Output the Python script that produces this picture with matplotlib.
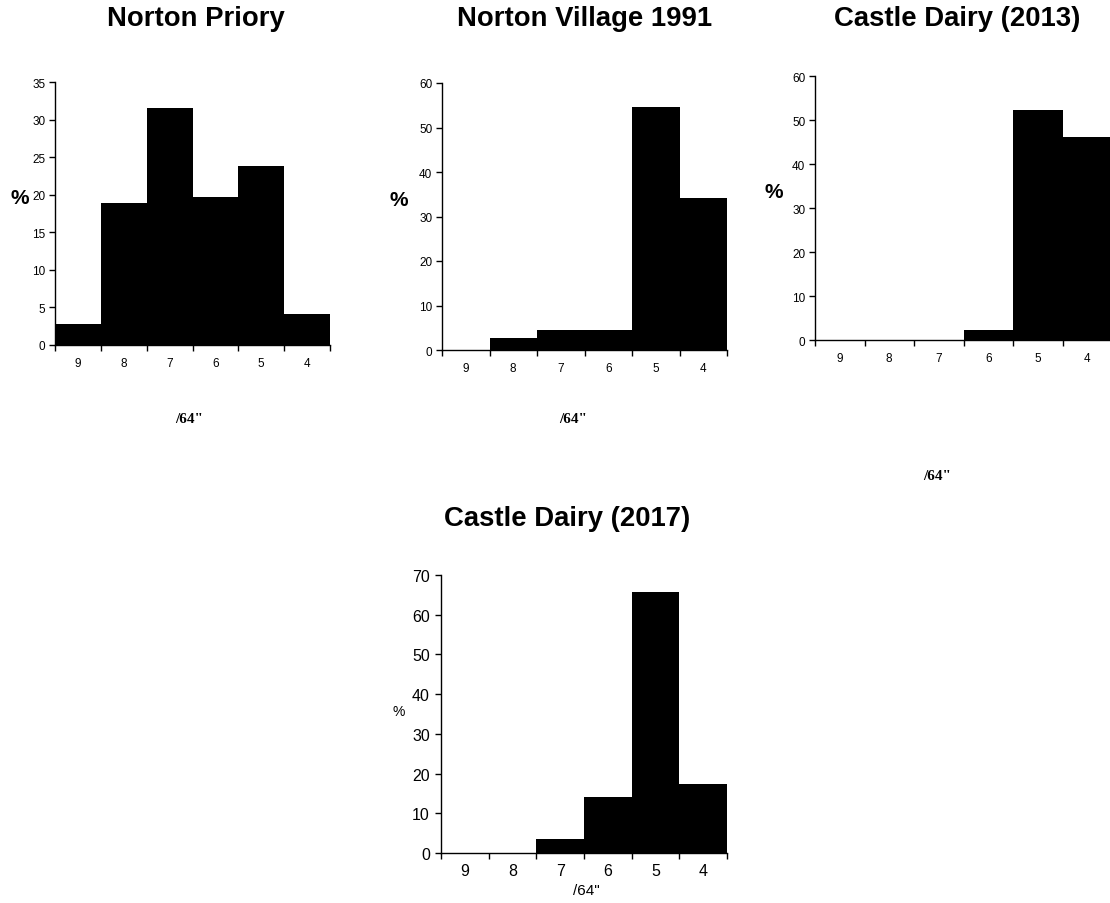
import matplotlib
matplotlib.use("Agg")
import matplotlib.pyplot as plt

plt.rcParams['font.family'] = ['Liberation Sans', 'DejaVu Sans']

W, H = 1110, 904

# sizes in 64ths of an inch, largest to smallest
sizes = ["9", "8", "7", "6", "5", "4"]

norton_priory = [2.8, 18.9, 31.5, 19.7, 23.8, 4.1]
norton_village = [0.0, 2.6, 4.6, 4.6, 54.7, 34.2]
castle_2013 = [0.0, 0.0, 0.0, 2.2, 52.3, 46.1]
castle_2017 = [0.0, 0.0, 3.6, 14.0, 65.6, 17.5]


def box(l, t, r, b):
    # pixel box -> figure fraction
    return [l / W, 1 - b / H, (r - l) / W, (b - t) / H]


def fx(x):
    return x / W


def fy(y):
    return 1 - y / H


def hist_panel(ax, values, ymax, ystep, tick_size, xpad, ypad):
    pos = [i + 0.5 for i in range(len(values))]
    ax.bar(pos, values, width=1.0, color="black", edgecolor="none")
    ax.set_xlim(0, len(values))
    ax.set_ylim(0, ymax)
    ax.set_xticks(range(len(values) + 1))
    ax.set_xticklabels([])
    ax.set_xticks(pos, minor=True)
    ax.set_xticklabels(sizes, minor=True)
    ax.tick_params(axis="x", which="minor", length=0, pad=xpad, labelsize=tick_size)
    ax.tick_params(axis="x", which="major", length=4, width=1, direction="out")
    ax.set_yticks(range(0, ymax + 1, ystep))
    ax.tick_params(axis="y", length=4, width=1, direction="out", pad=ypad, labelsize=tick_size)
    for s in ["top", "right"]:
        ax.spines[s].set_visible(False)
    for s in ["left", "bottom"]:
        ax.spines[s].set_linewidth(1)


fig = plt.figure(figsize=(W / 100, H / 100), dpi=100)

ax1 = fig.add_axes(box(55, 83, 330, 346))
hist_panel(ax1, norton_priory, 35, 5, 8.5, 9, 3)

ax2 = fig.add_axes(box(442, 84, 727, 351))
hist_panel(ax2, norton_village, 60, 10, 8.5, 9, 3)

ax3 = fig.add_axes(box(815, 77, 1112, 341))
hist_panel(ax3, castle_2013, 60, 10, 8.5, 9, 3)

ax4 = fig.add_axes(box(441, 576, 727, 854))
hist_panel(ax4, castle_2017, 70, 10, 11.5, 7, 4)

# titles
title_kw = dict(fontsize=19.8, fontweight="bold", ha="center", va="center")
fig.text(fx(196), fy(19), "Norton Priory", **title_kw)
fig.text(fx(585), fy(19), "Norton Village 1991", **title_kw)
fig.text(fx(957), fy(19), "Castle Dairy (2013)", **title_kw)
fig.text(fx(567), fy(519), "Castle Dairy (2017)", **title_kw)

# y labels
pct_kw = dict(fontsize=15, fontweight="bold", ha="center", va="center")
fig.text(fx(20), fy(199), "%", **pct_kw)
fig.text(fx(399), fy(201), "%", **pct_kw)
fig.text(fx(774), fy(192), "%", **pct_kw)
fig.text(fx(399), fy(712), "%", fontsize=10, ha="center", va="center")

# x labels
unit_kw = dict(fontsize=11, fontweight="bold", family="Liberation Serif",
               ha="center", va="center")
fig.text(fx(189), fy(420), '/64"', **unit_kw)
fig.text(fx(573), fy(420), '/64"', **unit_kw)
fig.text(fx(937), fy(477), '/64"', **unit_kw)
fig.text(fx(586), fy(891), '/64"', fontsize=11, ha="center", va="center")

fig.savefig("out.png", dpi=100)
plt.close(fig)
